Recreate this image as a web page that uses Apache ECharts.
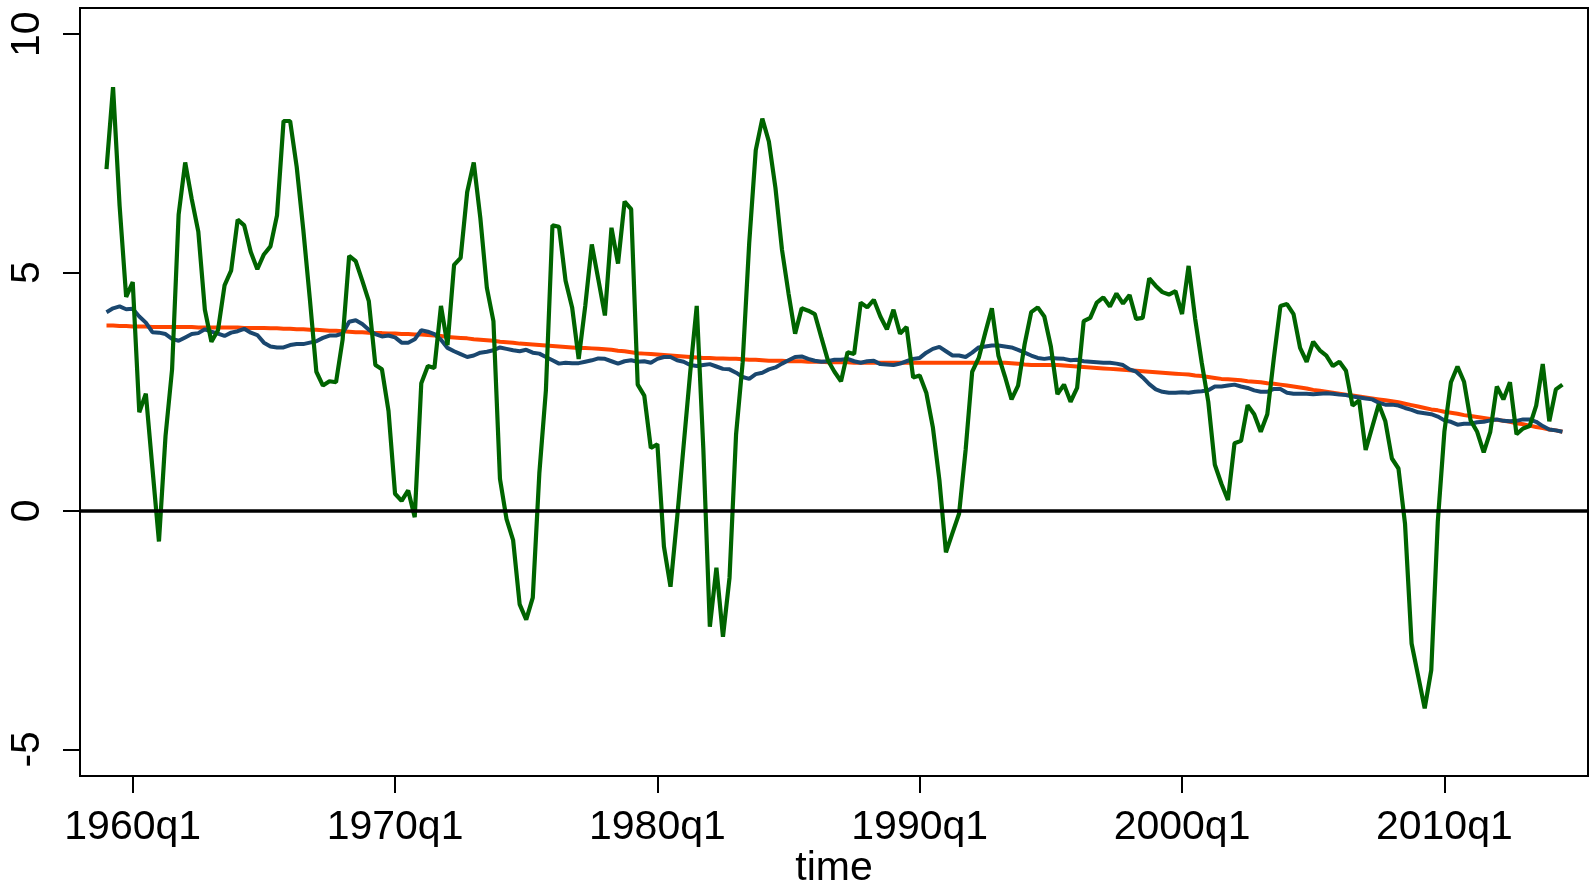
<!DOCTYPE html>
<html>
<head>
<meta charset="utf-8">
<title>time</title>
<script src="https://cdn.jsdelivr.net/npm/echarts@6.0.0/dist/echarts.min.js"></script>
<style>
  html, body { margin: 0; padding: 0; background: #fff; }
  #chart { width: 1591px; height: 885px; }
</style>
</head>
<body>
<div id="chart"></div>
<script>
// quarterly data, first point is 1959q1
const startYear = 1959

// green series (raw)
const growth = [
  7.17, 8.89, 6.40, 4.49,   4.80, 2.07, 2.46, 0.90,
  -0.64, 1.57, 2.97, 6.22,  7.31, 6.54, 5.86, 4.22,
  3.55, 3.79, 4.73, 5.04,   6.11, 5.99, 5.43, 5.07,
  5.38, 5.55, 6.20, 8.18,   8.18, 7.22, 5.91, 4.46,
  2.92, 2.63, 2.72, 2.70,   3.59, 5.35, 5.24, 4.83,
  4.40, 3.06, 2.97, 2.10,   0.36, 0.21, 0.43, -0.13,
  2.68, 3.04, 3.00, 4.30,   3.48, 5.16, 5.31, 6.69,
  7.31, 6.15, 4.68, 3.98,   0.67, -0.17, -0.61, -1.96,
  -2.28, -1.82, 0.79, 2.53, 5.99, 5.96, 4.83, 4.27,
  3.19, 4.30, 5.59, 4.85,   4.10, 5.94, 5.19, 6.49,
  6.33, 2.65, 2.42, 1.32,   1.40, -0.75, -1.59, -0.16,
  1.37, 2.90, 4.30, 1.32,   -2.43, -1.19, -2.64, -1.40,
  1.61, 3.11, 5.62, 7.57,   8.23, 7.75, 6.78, 5.48,
  4.56, 3.72, 4.25, 4.20,   4.13, 3.64, 3.16, 2.92,
  2.72, 3.33, 3.29, 4.37,   4.27, 4.43, 4.08, 3.81,
  4.22, 3.72, 3.86, 2.80,   2.84, 2.48, 1.76, 0.65,
  -0.87, -0.46, -0.06, 1.28, 2.92, 3.21, 3.74, 4.25,
  3.26, 2.82, 2.34, 2.63,   3.50, 4.17, 4.27, 4.08,
  3.45, 2.45, 2.65, 2.29,   2.58, 3.98, 4.05, 4.37,
  4.48, 4.29, 4.56, 4.35,   4.53, 4.03, 4.05, 4.88,
  4.72, 4.59, 4.54, 4.61,   4.13, 5.14, 4.03, 3.11,
  2.29, 0.97, 0.57, 0.23,   1.42, 1.47, 2.22, 2.03,
  1.66, 2.03, 3.21, 4.30,   4.34, 4.13, 3.42, 3.13,
  3.55, 3.37, 3.26, 3.04,   3.13, 2.94, 2.21, 2.32,
  1.28, 1.76, 2.24, 1.88,   1.10, 0.89, -0.27, -2.78,
  -3.46, -4.14, -3.34, -0.22, 1.66, 2.70, 3.03, 2.71,
  1.90, 1.66, 1.23, 1.66,   2.61, 2.34, 2.70, 1.61,
  1.73, 1.78, 2.21, 3.08,   1.88, 2.55, 2.65
]

// blue series (moving average)
const movingAvg = [
  4.17, 4.25, 4.29, 4.23,   4.24, 4.08, 3.95, 3.75,
  3.74, 3.71, 3.61, 3.57,   3.64, 3.71, 3.73, 3.81,
  3.76, 3.72, 3.67, 3.74,   3.77, 3.82, 3.74, 3.69,
  3.53, 3.45, 3.43, 3.43,   3.48, 3.50, 3.50, 3.53,
  3.56, 3.63, 3.68, 3.68,   3.72, 3.97, 4.00, 3.92,
  3.80, 3.71, 3.66, 3.68,   3.64, 3.53, 3.53, 3.60,
  3.79, 3.76, 3.71, 3.59,   3.42, 3.35, 3.29, 3.23,
  3.26, 3.32, 3.34, 3.37,   3.43, 3.40, 3.37, 3.35,
  3.38, 3.32, 3.30, 3.23,   3.16, 3.09, 3.11, 3.10,
  3.10, 3.13, 3.16, 3.20,   3.19, 3.14, 3.09, 3.14,
  3.16, 3.13, 3.14, 3.11,   3.19, 3.23, 3.23, 3.16,
  3.13, 3.06, 3.04, 3.06,   3.08, 3.03, 2.98, 2.97,
  2.90, 2.81, 2.77, 2.87,   2.90, 2.97, 3.01, 3.09,
  3.16, 3.23, 3.24, 3.19,   3.15, 3.13, 3.14, 3.17,
  3.17, 3.19, 3.14, 3.11,   3.14, 3.15, 3.08, 3.07,
  3.06, 3.09, 3.14, 3.19,   3.21, 3.32, 3.40, 3.44,
  3.35, 3.26, 3.26, 3.23,   3.32, 3.43, 3.45, 3.47,
  3.47, 3.45, 3.43, 3.38,   3.32, 3.26, 3.21, 3.19,
  3.21, 3.20, 3.19, 3.16,   3.17, 3.14, 3.13, 3.12,
  3.11, 3.11, 3.09, 3.06,   2.97, 2.92, 2.80, 2.66,
  2.55, 2.50, 2.48, 2.48,   2.49, 2.48, 2.50, 2.51,
  2.53, 2.61, 2.61, 2.63,   2.65, 2.61, 2.58, 2.53,
  2.50, 2.50, 2.56, 2.56,   2.48, 2.46, 2.46, 2.46,
  2.45, 2.46, 2.47, 2.46,   2.44, 2.43, 2.40, 2.38,
  2.36, 2.34, 2.27, 2.23,   2.23, 2.21, 2.16, 2.12,
  2.07, 2.05, 2.03, 1.98,   1.90, 1.87, 1.81, 1.83,
  1.83, 1.86, 1.87, 1.90,   1.92, 1.89, 1.88, 1.89,
  1.92, 1.92, 1.87, 1.78,   1.71, 1.69, 1.66
]

// red series (trend)
const trend = [
  3.89, 3.89, 3.88, 3.88,   3.87, 3.87, 3.87, 3.86,
  3.86, 3.86, 3.86, 3.86,   3.86, 3.86, 3.85, 3.85,
  3.85, 3.85, 3.85, 3.85,   3.85, 3.84, 3.84, 3.84,
  3.84, 3.83, 3.83, 3.82,   3.82, 3.81, 3.81, 3.80,
  3.80, 3.79, 3.78, 3.78,   3.77, 3.76, 3.75, 3.75,
  3.74, 3.73, 3.73, 3.72,   3.72, 3.71, 3.71, 3.70,
  3.70, 3.69, 3.68, 3.67,   3.65, 3.64, 3.63, 3.62,
  3.60, 3.59, 3.58, 3.57,   3.55, 3.54, 3.53, 3.51,
  3.50, 3.49, 3.48, 3.47,   3.46, 3.45, 3.44, 3.43,
  3.42, 3.42, 3.41, 3.40,   3.39, 3.38, 3.36, 3.35,
  3.33, 3.31, 3.30, 3.29,   3.28, 3.27, 3.26, 3.25,
  3.24, 3.23, 3.22, 3.21,   3.21, 3.20, 3.20, 3.19,
  3.19, 3.18, 3.17, 3.17,   3.16, 3.15, 3.15, 3.15,
  3.14, 3.14, 3.14, 3.13,   3.13, 3.13, 3.12, 3.12,
  3.12, 3.12, 3.11, 3.11,   3.11, 3.11, 3.11, 3.11,
  3.11, 3.11, 3.11, 3.11,   3.11, 3.11, 3.11, 3.11,
  3.11, 3.11, 3.11, 3.11,   3.11, 3.11, 3.11, 3.11,
  3.11, 3.11, 3.10, 3.09,   3.07, 3.06, 3.06, 3.06,
  3.06, 3.06, 3.05, 3.04,   3.03, 3.02, 3.01, 3.00,
  2.99, 2.98, 2.97, 2.96,   2.95, 2.94, 2.93, 2.92,
  2.91, 2.90, 2.89, 2.88,   2.87, 2.86, 2.84, 2.83,
  2.81, 2.79, 2.77, 2.76,   2.75, 2.74, 2.72, 2.71,
  2.70, 2.68, 2.67, 2.65,   2.63, 2.61, 2.59, 2.57,
  2.54, 2.52, 2.50, 2.48,   2.46, 2.44, 2.42, 2.40,
  2.38, 2.36, 2.34, 2.32,   2.30, 2.28, 2.25, 2.22,
  2.19, 2.16, 2.13, 2.11,   2.08, 2.06, 2.04, 2.01,
  1.99, 1.97, 1.95, 1.93,   1.91, 1.89, 1.87, 1.84,
  1.82, 1.79, 1.76, 1.74,   1.71, 1.69, 1.66
]

// axis ticks
const xTickLabels = ['1960q1', '1970q1', '1980q1', '1990q1', '2000q1', '2010q1']
const yTicks = [-5, 0, 5, 10]

// quarter index of a label like 1970q1
function quarterIndex(label) {
  const y = parseInt(label.slice(0, 4))
  const q = parseInt(label.slice(5))
  return (y - startYear) * 4 + (q - 1)
}
const xTicks = xTickLabels.map(quarterIndex)

const toPairs = arr => arr.map((v, i) => [i, v])
const font = "'Liberation Sans', Arial, sans-serif"

const chart = echarts.init(document.getElementById('chart'))
const option = {
  animation: false,
  backgroundColor: '#fff',
  grid: {
    left: 80,
    top: 8,
    right: 3,
    bottom: 109,
    outerBoundsMode: 'none',
    containLabel: false,
    show: true,
    borderColor: '#000',
    borderWidth: 2,
  },
  xAxis: {
    type: 'value',
    min: -4.04,
    max: 225.9,
    name: 'time',
    nameLocation: 'middle',
    nameGap: 72,
    nameMoveOverlap: false,
    nameTextStyle: { color: '#000', fontSize: 41, fontFamily: font },
    axisLine: { show: true, onZero: false, lineStyle: { color: '#000', width: 2 } },
    axisTick: { show: true, length: 17, customValues: xTicks, lineStyle: { color: '#000', width: 2 } },
    axisLabel: {
      customValues: xTicks,
      margin: 31,
      color: '#000',
      fontSize: 41,
      fontFamily: font,
      formatter: v => xTickLabels[xTicks.indexOf(Math.round(v))] || '',
    },
    splitLine: { show: false },
  },
  yAxis: {
    type: 'value',
    min: -5.56,
    max: 10.55,
    axisLine: { show: true, onZero: false, lineStyle: { color: '#000', width: 2 } },
    axisTick: { show: true, length: 17, customValues: yTicks, lineStyle: { color: '#000', width: 2 } },
    axisLabel: {
      customValues: yTicks,
      rotate: 90,
      margin: 32,
      color: '#000',
      fontSize: 41,
      fontFamily: font,
    },
    splitLine: { show: false },
  },
  series: [
    {
      name: 'trend',
      type: 'line',
      data: toPairs(trend),
      symbol: 'none',
      lineStyle: { color: '#ff4500', width: 4 },
      markLine: {
        silent: true,
        symbol: 'none',
        label: { show: false },
        lineStyle: { color: '#000', width: 3.5, type: 'solid' },
        data: [{ yAxis: 0 }],
      },
    },
    {
      name: 'moving average',
      type: 'line',
      data: toPairs(movingAvg),
      symbol: 'none',
      lineStyle: { color: '#1a476f', width: 4 },
    },
    {
      name: 'growth',
      type: 'line',
      data: toPairs(growth),
      symbol: 'none',
      lineStyle: { color: '#006400', width: 4.2 },
    },
  ],
}
chart.setOption(option)
</script>
</body>
</html>
